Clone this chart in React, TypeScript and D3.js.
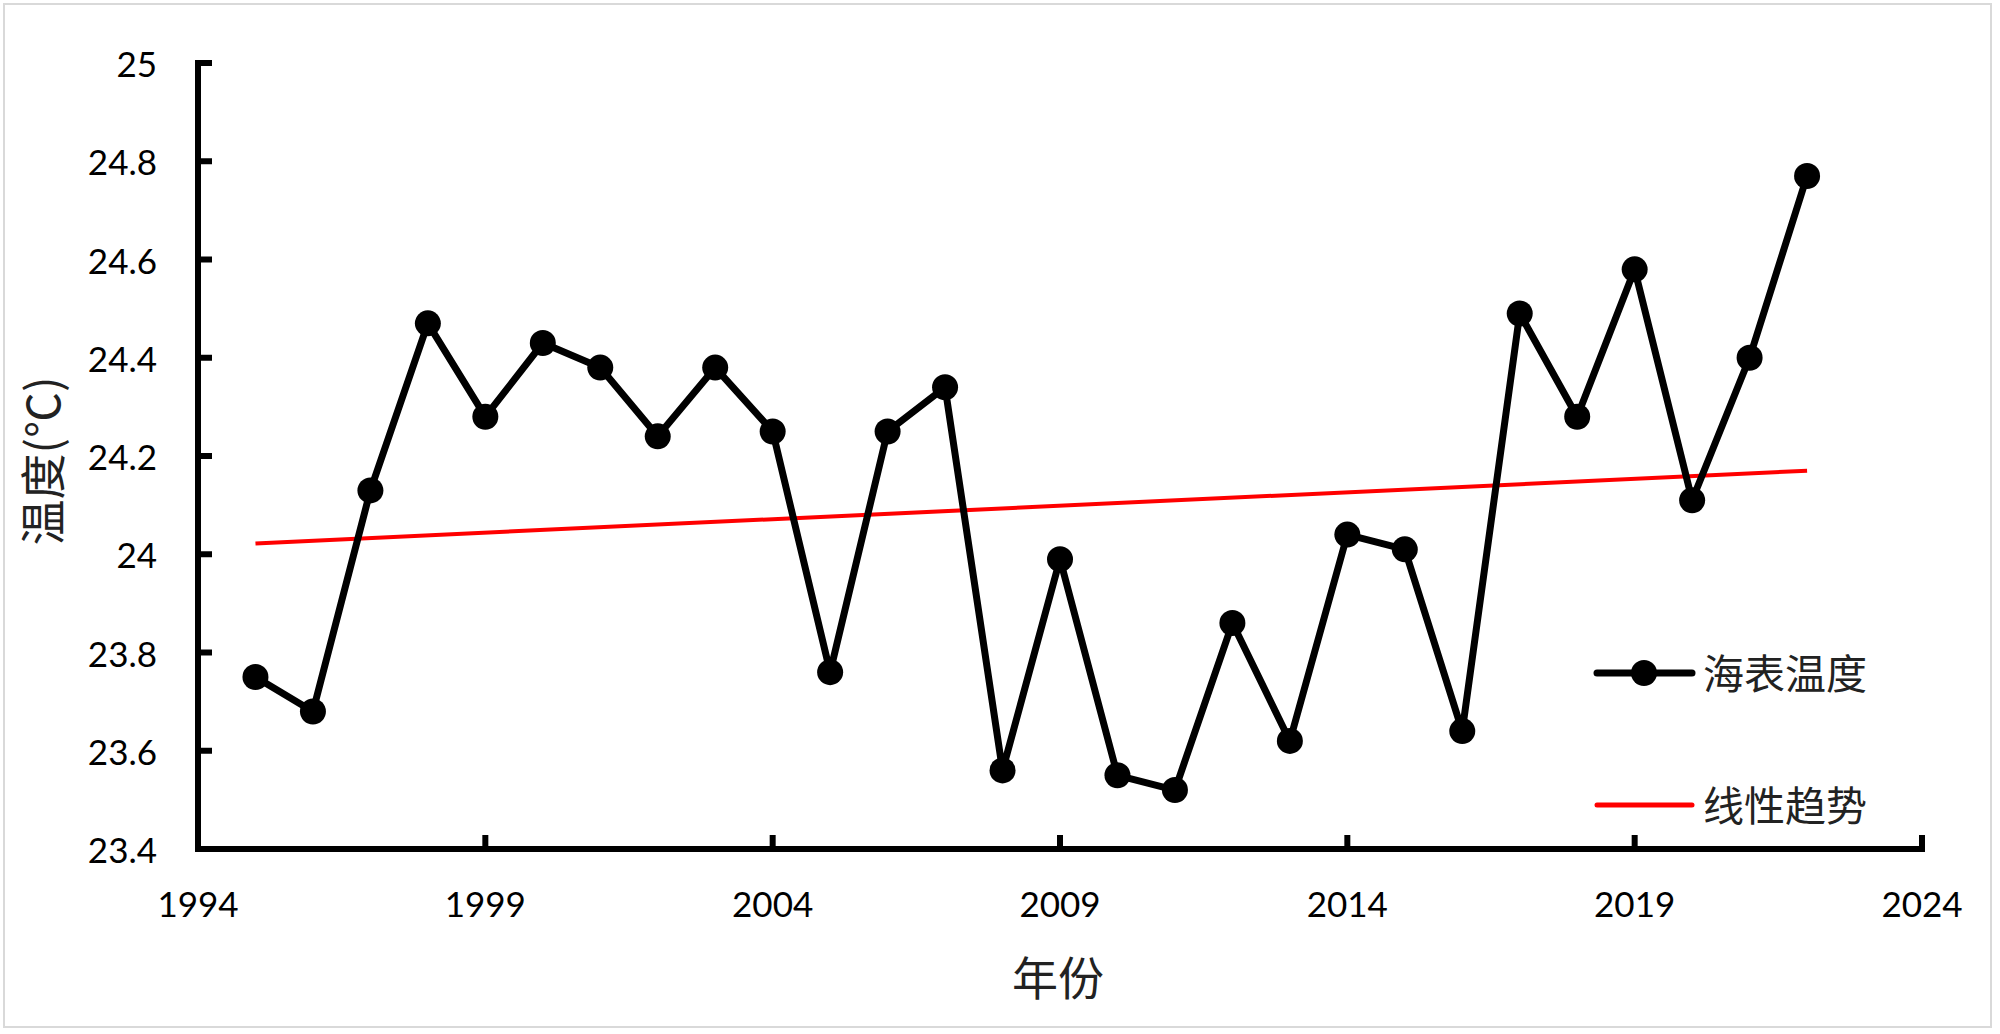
import React from "react";
import * as d3 from "d3";

const years = [1995, 1996, 1997, 1998, 1999, 2000, 2001, 2002, 2003, 2004, 2005, 2006, 2007, 2008, 2009, 2010, 2011, 2012, 2013, 2014, 2015, 2016, 2017, 2018, 2019, 2020, 2021, 2022];
const sst = [23.75, 23.68, 24.13, 24.47, 24.28, 24.43, 24.38, 24.24, 24.38, 24.25, 23.76, 24.25, 24.34, 23.56, 23.99, 23.55, 23.52, 23.86, 23.62, 24.04, 24.01, 23.64, 24.49, 24.28, 24.58, 24.11, 24.40, 24.77];
const trendYears = [1995, 2022];
const trendValues = [24.022, 24.17];
const xTicks = [1994, 1999, 2004, 2009, 2014, 2019, 2024];
const yTicks = [23.4, 23.6, 23.8, 24, 24.2, 24.4, 24.6, 24.8, 25];
const seriesName = "海表温度";
const trendName = "线性趋势";
const xTitle = "年份";
const yTitle = "温度(℃)";

const W = 2000;
const H = 1034;
const left = 198;
const right = 1922;
const top = 63;
const bottom = 849;

export default function App() {
  const x = d3.scaleLinear().domain([1994, 2024]).range([left, right]);
  const y = d3.scaleLinear().domain([23.4, 25]).range([bottom, top]);
  const pts = years.map((yr, i) => [yr, sst[i]] as [number, number]);
  const line = d3.line<[number, number]>().x((d) => x(d[0])).y((d) => y(d[1]));
  const trendPts = trendYears.map((yr, i) => [yr, trendValues[i]] as [number, number]);
  const numFont = "Lato, 'Open Sans', sans-serif";
  const cjkFont = "'Noto Sans CJK SC', sans-serif";
  const fmt = (v: number) => String(+v.toFixed(1));
  return (
    <svg width={W} height={H} style={{ position: "absolute", left: 0, top: 0, background: "#fff" }}>
      <rect x={0} y={0} width={W} height={H} fill="#fff" />
      <rect x={4} y={4} width={1987} height={1023} fill="none" stroke="#d9d9d9" strokeWidth={2} />
      {/* axes */}
      <line x1={left} x2={left} y1={top - 3} y2={bottom + 3} stroke="#000" strokeWidth={6} />
      <line x1={left - 3} x2={right + 3} y1={bottom} y2={bottom} stroke="#000" strokeWidth={6} />
      {yTicks.map((t) => (
        <g key={"y" + t}>
          <line x1={left} x2={left + 14} y1={y(t)} y2={y(t)} stroke="#000" strokeWidth={6} />
          <text x={157} y={y(t)} textAnchor="end" dominantBaseline="central" fontFamily={numFont} fontSize={35} fill="#000">
            {fmt(t)}
          </text>
        </g>
      ))}
      {xTicks.map((t) => (
        <g key={"x" + t}>
          <line x1={x(t)} x2={x(t)} y1={bottom} y2={bottom - 14} stroke="#000" strokeWidth={6} />
          <text x={x(t)} y={917} textAnchor="middle" fontFamily={numFont} fontSize={35} fill="#000">
            {t}
          </text>
        </g>
      ))}
      {/* titles */}
      <text x={1058} y={975} textAnchor="middle" dominantBaseline="central" fontFamily={cjkFont} fontSize={46} fill="#222">
        {xTitle}
      </text>
      <text transform={`translate(40,461) rotate(-90)`} textAnchor="middle" dominantBaseline="central" fontFamily={cjkFont} fontSize={46} fill="#222">
        {yTitle}
      </text>
      {/* trend */}
      <path d={line(trendPts) || ""} fill="none" stroke="#ff0000" strokeWidth={4} />
      {/* series */}
      <path d={line(pts) || ""} fill="none" stroke="#000" strokeWidth={7} strokeLinejoin="round" />
      {pts.map((p, i) => (
        <circle key={i} cx={x(p[0])} cy={y(p[1])} r={13} fill="#000" />
      ))}
      {/* legend */}
      <line x1={1597} x2={1692} y1={673} y2={673} stroke="#000" strokeWidth={7} strokeLinecap="round" />
      <circle cx={1644} cy={673} r={13} fill="#000" />
      <text x={1703} y={671} dominantBaseline="central" fontFamily={cjkFont} fontSize={41} fill="#222">
        {seriesName}
      </text>
      <line x1={1597} x2={1692} y1={805} y2={805} stroke="#ff0000" strokeWidth={5} strokeLinecap="round" />
      <text x={1703} y={803} dominantBaseline="central" fontFamily={cjkFont} fontSize={41} fill="#222">
        {trendName}
      </text>
    </svg>
  );
}
